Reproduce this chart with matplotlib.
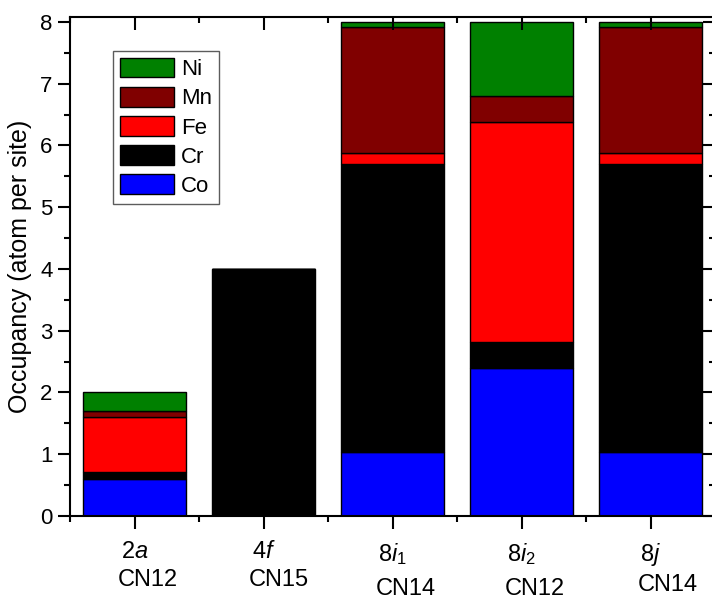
import matplotlib
matplotlib.use("Agg")
import matplotlib.pyplot as plt
from matplotlib.ticker import MultipleLocator
import numpy as np

plt.rcParams["font.family"] = "Liberation Sans"
plt.rcParams["mathtext.fontset"] = "custom"
plt.rcParams["mathtext.rm"] = "Liberation Sans"
plt.rcParams["mathtext.it"] = "Liberation Sans:italic"

# Wyckoff sites and coordination numbers
sites = [r"2$\mathit{a}$", r"4$\mathit{f}$", r"8$\mathit{i}_{1}$",
         r"8$\mathit{i}_{2}$", r"8$\mathit{j}$"]
cn = ["CN12", "CN15", "CN14", "CN12", "CN14"]

# occupancy per site, stacked bottom to top
co = [0.60, 0.00, 1.04, 2.40, 1.04]
cr = [0.11, 4.00, 4.66, 0.41, 4.66]
fe = [0.89, 0.00, 0.18, 3.57, 0.18]
mn = [0.10, 0.00, 2.04, 0.42, 2.04]
ni = [0.30, 0.00, 0.08, 1.20, 0.08]

elements = ["Co", "Cr", "Fe", "Mn", "Ni"]
colors = ["#0000ff", "#000000", "#ff0000", "#800000", "#008000"]

fig = plt.figure(figsize=(7.12, 6.03), dpi=100)
ax = fig.add_axes([70 / 712, 87 / 603, 645 / 712, 499 / 603])

x = np.arange(len(sites))
bottom = np.zeros(len(sites))
for vals, name, c in zip([co, cr, fe, mn, ni], elements, colors):
    ax.bar(x, vals, width=0.8, bottom=bottom, color=c, edgecolor="black",
           linewidth=1.0, label=name)
    bottom += np.array(vals)

ax.set_xlim(-0.5, 4.5)
ax.set_ylim(0, 8.08)
ax.set_xticks(x, [""] * len(x))
ax.xaxis.set_minor_locator(MultipleLocator(0.5))
ax.yaxis.set_major_locator(MultipleLocator(1))
ax.yaxis.set_minor_locator(MultipleLocator(0.5))
ax.set_ylabel("Occupancy (atom per site)", fontsize=18, labelpad=6)

for sp in ax.spines.values():
    sp.set_linewidth(1.5)
ax.tick_params(axis="y", which="both", left=True, right=True, labelsize=16,
               width=1.5)
ax.tick_params(axis="x", which="both", bottom=True, top=True, width=1.5)
ax.tick_params(which="major", length=9)
ax.tick_params(which="minor", length=4)
ax.tick_params(which="both", direction="out")
# top and right ticks point inward
for t in ax.xaxis.get_major_ticks() + ax.xaxis.get_minor_ticks():
    t.tick2line.set_marker(3)
for t in ax.yaxis.get_major_ticks() + ax.yaxis.get_minor_ticks():
    t.tick2line.set_marker(0)

# two-line category labels: site centred on the tick, CN left-aligned under it
tops = []
for i, s in enumerate(sites):
    tops.append(ax.annotate(s, xy=(i, 0), xycoords=("data", "axes fraction"),
                            xytext=(0, -18), textcoords="offset points",
                            ha="center", va="top", fontsize=17))
fig.canvas.draw()
for t, s, c in zip(tops, sites, cn):
    bb = t.get_window_extent()
    dy = -8 if "_" in s else -4  # subscripted sites sit a bit lower
    ax.annotate(c, xy=(bb.x0, bb.y0), xycoords="figure pixels",
                xytext=(-2, dy), textcoords="offset points",
                ha="left", va="top", fontsize=17)

h, l = ax.get_legend_handles_labels()
ax.legend(h[::-1], l[::-1], loc="upper left", bbox_to_anchor=(0.067, 0.932),
          fontsize=16, frameon=True, fancybox=False, edgecolor="#333333",
          handlelength=2.45, handleheight=1.0, labelspacing=0.3,
          handletextpad=0.3, borderpad=0.3, borderaxespad=0)

fig.savefig("out.png", dpi=100)
